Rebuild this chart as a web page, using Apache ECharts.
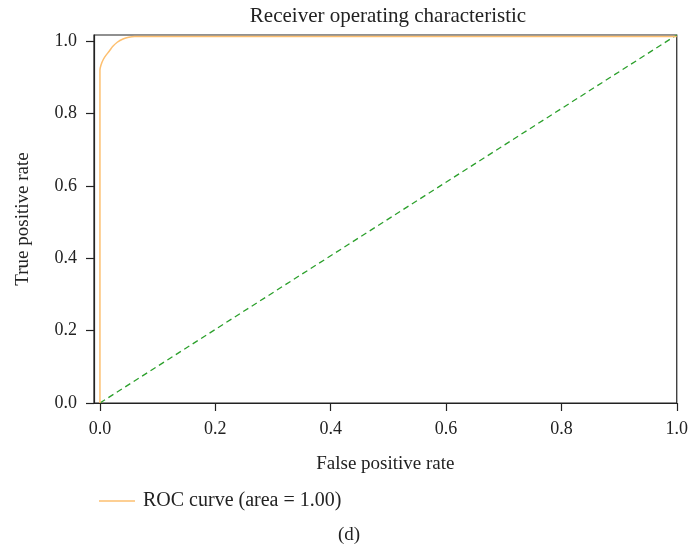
<!DOCTYPE html>
<html>
<head>
<meta charset="utf-8">
<script src="https://cdn.jsdelivr.net/npm/echarts@6/dist/echarts.min.js"></script>
<style>html,body{margin:0;padding:0;background:#fff}#c{width:691px;height:550px}</style>
</head>
<body>
<div id="c"></div>
<script>
var rocFpr = [0, 0, 0.002, 0.006, 0.01, 0.016, 0.022, 0.03, 0.04, 0.05, 0.06, 1.0];
var rocTpr = [0, 0.92, 0.935, 0.95, 0.96, 0.972, 0.985, 0.997, 1.006, 1.011, 1.013, 1.013];
var diagX = [0, 1.0];
var diagY = [0, 1.017];
var tickValues = [0, 0.2, 0.4, 0.6, 0.8, 1.0];
var rocName = 'ROC curve (area = 1.00)';

var F = 'Liberation Serif';
var chart = echarts.init(document.getElementById('c'), null, {renderer: 'canvas'});
var roc = rocFpr.map(function (x, i) { return [x, rocTpr[i]]; });
var diag = diagX.map(function (x, i) { return [x, diagY[i]]; });

chart.setOption({
  animation: false,
  title: {
    text: 'Receiver operating characteristic',
    left: 383, top: 1, textAlign: 'center',
    textStyle: {fontFamily: F, fontSize: 21, fontWeight: 'normal', color: '#222'}
  },
  grid: {left: 94, right: 12, top: 35, bottom: 147, show: true, borderColor: '#222', borderWidth: 1.2, containLabel: false},
  legend: {
    left: 94, top: 486,
    itemWidth: 36, itemHeight: 1.5, itemGap: 10,
    data: [{name: rocName, icon: 'rect'}],
    textStyle: {fontFamily: F, fontSize: 20, color: '#222', padding: [0, 0, 0, 3]}
  },
  xAxis: {
    type: 'value', min: -0.0103, max: 1.0,
    name: 'False positive rate', nameLocation: 'middle', nameGap: 52,
    nameTextStyle: {fontFamily: F, fontSize: 19, color: '#222'},
    axisLine: {show: true, onZero: false, lineStyle: {color: '#222', width: 1.2}},
    axisTick: {show: true, length: 8, customValues: tickValues, lineStyle: {color: '#222', width: 1.2}},
    axisLabel: {customValues: tickValues, fontFamily: F, fontSize: 18, color: '#222', margin: 17,
      formatter: function (v) { return v.toFixed(1); }},
    splitLine: {show: false}
  },
  yAxis: {
    type: 'value', min: 0, max: 1.017,
    name: 'True positive rate', nameLocation: 'middle', nameGap: 61,
    nameTextStyle: {fontFamily: F, fontSize: 19, color: '#222'},
    axisLine: {show: true, onZero: false, lineStyle: {color: '#222', width: 1.2}},
    axisTick: {show: true, length: 8, customValues: tickValues, lineStyle: {color: '#222', width: 1.2}},
    axisLabel: {customValues: tickValues, fontFamily: F, fontSize: 18, color: '#222', margin: 17,
      formatter: function (v) { return v.toFixed(1); }},
    splitLine: {show: false}
  },
  graphic: [{
    type: 'text', left: 338, top: 526,
    style: {text: '(d)', font: '19px "Liberation Serif"', fill: '#222'}
  }],
  series: [
    {
      name: 'diag', type: 'line', data: diag, showSymbol: false, symbol: 'none',
      lineStyle: {color: '#2ca02c', width: 1.3, type: [6, 4]}, z: 2
    },
    {
      name: rocName, type: 'line', data: roc, showSymbol: false, symbol: 'none', smooth: 0.3,
      lineStyle: {color: '#fdbf6f', width: 1.5}, itemStyle: {color: '#fdbf6f'}, z: 3
    }
  ]
});
</script>
</body>
</html>
